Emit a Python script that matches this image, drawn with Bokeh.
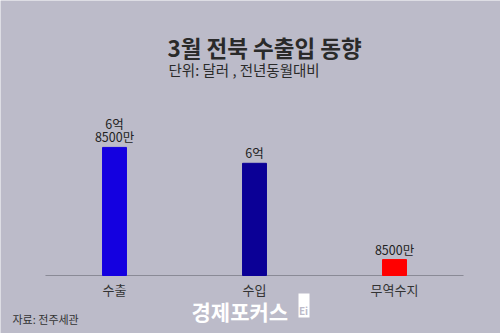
from bokeh.plotting import figure
from bokeh.models import ColumnDataSource, Label, BoxAnnotation
from bokeh.core.properties import value
from bokeh.embed import file_html
from bokeh.resources import INLINE

categories = ["수출", "수입", "무역수지"]
values = [6.85, 6.0, 0.85]          # 단위: 억 달러
value_labels = ["6억\n8500만", "6억", "8500만"]
colors = ["#1400e0", "#0b0096", "#ff0000"]

BG = "#bcbbc9"
FONT = "Noto Sans CJK KR"
W, H = 500, 333

xs = list(range(len(categories)))
src = ColumnDataSource(dict(x=xs, top=values, label=value_labels, color=colors,
                            cat=categories, zero=[0] * len(xs)))

# frame covers the whole canvas; 140 px per category, ~18.7 px per 억 달러
p = figure(width=W, height=H, output_backend="svg", toolbar_location=None,
           x_range=(-0.8143, 2.757), y_range=(-3.1016, 14.706),
           min_border=0)
p.background_fill_color = BG
p.border_fill_color = BG
p.outline_line_color = None
p.grid.visible = False
p.axis.visible = False

# baseline (category axis line)
p.segment(x0=xs[0] - 0.493, x1=xs[-1] + 0.493, y0=0, y1=0,
          line_color="#8a8a96", line_width=1)

p.vbar(x="x", top="top", width=0.171, color="color", source=src)
p.text(x="x", y="top", text="label", source=src, y_offset=-1,
       text_align="center", text_baseline="bottom", text_font=value(FONT),
       text_font_size="12.5px", text_color="#222222", text_line_height=0.72)

# category labels
p.text(x="x", y="zero", text="cat", source=src, y_offset=14,
       text_align="center", text_baseline="middle", text_font=value(FONT),
       text_font_size="13px", text_color="#333333")


def sy(Y):
    return H - Y


p.add_layout(Label(x=167, y=sy(46), x_units="screen", y_units="screen",
                   text="3월 전북 수출입 동향", text_font=FONT, text_font_style="bold",
                   text_font_size="22.5px", text_color="#2a2a2a", text_baseline="middle"))
p.add_layout(Label(x=168, y=sy(69), x_units="screen", y_units="screen",
                   text="단위: 달러 , 전년동월대비", text_font=FONT,
                   text_font_size="14.5px", text_color="#2a2a2a", text_baseline="middle"))
p.add_layout(Label(x=12, y=sy(318), x_units="screen", y_units="screen",
                   text="자료: 전주세관", text_font=FONT,
                   text_font_size="11px", text_color="#333333", text_baseline="middle"))
p.add_layout(Label(x=191, y=sy(310), x_units="screen", y_units="screen",
                   text="경제포커스", text_font=FONT, text_font_style="bold",
                   text_font_size="21px", text_color="#ffffff", text_baseline="middle"))
p.add_layout(BoxAnnotation(left=298, right=309, top=sy(293), bottom=sy(317),
                           left_units="screen", right_units="screen",
                           top_units="screen", bottom_units="screen",
                           fill_color="#ffffff", fill_alpha=1.0, line_color=None))
p.add_layout(Label(x=303, y=sy(310), x_units="screen", y_units="screen",
                   text="Ei", text_font=FONT, text_font_style="bold", text_align="center",
                   text_font_size="10px", text_color=BG, text_baseline="middle"))

open("out.html", "w").write(file_html(p, INLINE))
